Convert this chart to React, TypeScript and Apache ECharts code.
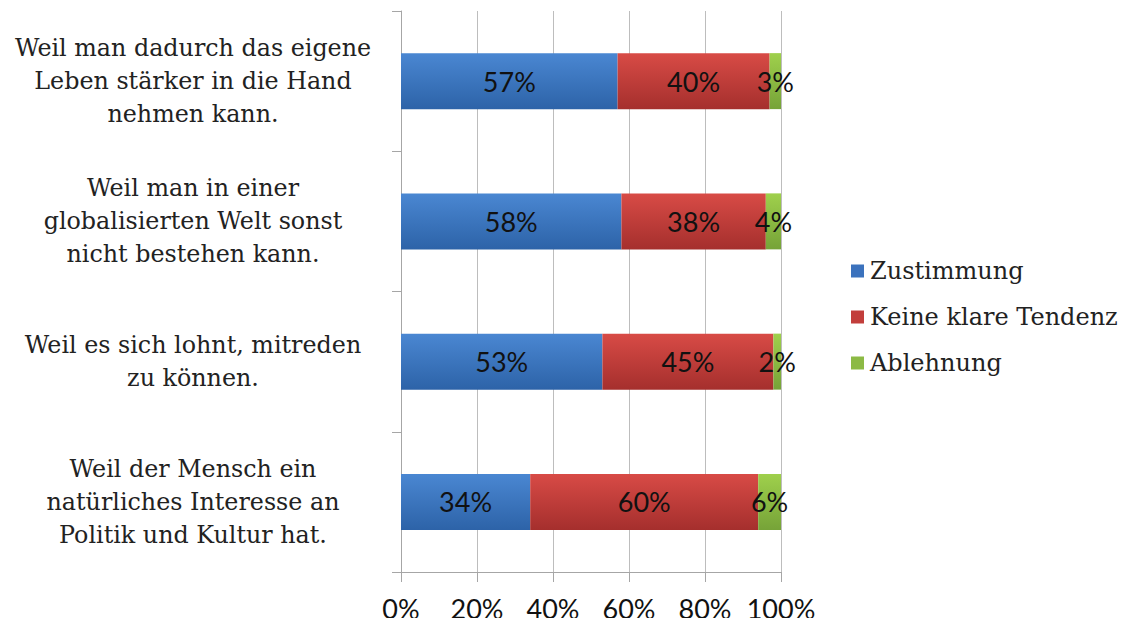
import React, { useEffect, useRef } from "react";
import * as echarts from "echarts";

const categories = [
  "Weil man dadurch das eigene\nLeben stärker in die Hand\nnehmen kann.",
  "Weil man in einer\nglobalisierten Welt sonst\nnicht bestehen kann.",
  "Weil es sich lohnt, mitreden\nzu können.",
  "Weil der Mensch ein\nnatürliches Interesse an\nPolitik und Kultur hat.",
];
const zustimmung = [57, 58, 53, 34];
const keineTendenz = [40, 38, 45, 60];
const ablehnung = [3, 4, 2, 6];
const seriesNames = ["Zustimmung", "Keine klare Tendenz", "Ablehnung"];

const grad = (top: string, bottom: string) =>
  new echarts.graphic.LinearGradient(0, 0, 0, 1, [
    { offset: 0, color: top },
    { offset: 1, color: bottom },
  ]);

export default function App() {
  const ref = useRef<HTMLDivElement>(null);
  useEffect(() => {
    if (!ref.current) return;
    const chart = echarts.init(ref.current, undefined, { renderer: "svg" });
    const labelStyle = {
      show: true,
      position: "inside",
      formatter: "{c}%",
      color: "#111",
      fontFamily: "Lato, 'Open Sans', sans-serif",
      fontSize: 27,
    };
    const colors = [
      grad("#4a87d2", "#2d63a8"),
      grad("#d84b46", "#a52f2d"),
      grad("#9fd04c", "#76a338"),
    ];
    const legendColors = ["#3b72bd", "#c23e3b", "#8cba45"];
    const datas = [zustimmung, keineTendenz, ablehnung];
    chart.setOption({
      animation: false,
      backgroundColor: "#fff",
      grid: { left: 401, right: 348, top: 11, bottom: 54 },
      legend: {
        orient: "vertical",
        left: 846,
        top: 254,
        itemWidth: 13,
        itemHeight: 13,
        itemGap: 22,
        icon: "rect",
        textStyle: {
          fontFamily: "'DejaVu Serif', serif",
          fontSize: 24,
          color: "#222",
          padding: [0, 0, 0, 1],
        },
        data: seriesNames.map((n, i) => ({ name: n, itemStyle: { color: legendColors[i] } })),
      },
      xAxis: {
        type: "value",
        min: 0,
        max: 100,
        interval: 20,
        axisLine: { show: true, lineStyle: { color: "#a6a6a6" } },
        axisTick: { show: true, length: 10, lineStyle: { color: "#a6a6a6" } },
        splitLine: { show: true, lineStyle: { color: "#bdbdbd" } },
        axisLabel: {
          formatter: "{value}%",
          color: "#111",
          fontFamily: "Lato, 'Open Sans', sans-serif",
          fontSize: 27,
          margin: 23,
        },
      },
      yAxis: {
        type: "category",
        inverse: true,
        data: categories,
        axisLine: { show: true, lineStyle: { color: "#a6a6a6" } },
        axisTick: { show: true, length: 9, lineStyle: { color: "#a6a6a6" } },
        axisLabel: {
          align: "center",
          margin: 208,
          color: "#222",
          fontFamily: "'DejaVu Serif', serif",
          fontSize: 23.8,
          lineHeight: 33,
        },
      },
      series: seriesNames.map((name, i) => ({
        name,
        type: "bar",
        stack: "total",
        barWidth: 56,
        data: datas[i],
        itemStyle: { color: colors[i] },
        label: labelStyle,
      })),
      graphic: [
        {
          type: "line",
          shape: { x1: 1, y1: 0, x2: 1, y2: 626 },
          style: { stroke: "#8a8a8a", lineWidth: 2 },
        },
      ],
    });
    return () => chart.dispose();
  }, []);
  return <div ref={ref} style={{ width: 1129, height: 626, margin: -8 }} />;
}
